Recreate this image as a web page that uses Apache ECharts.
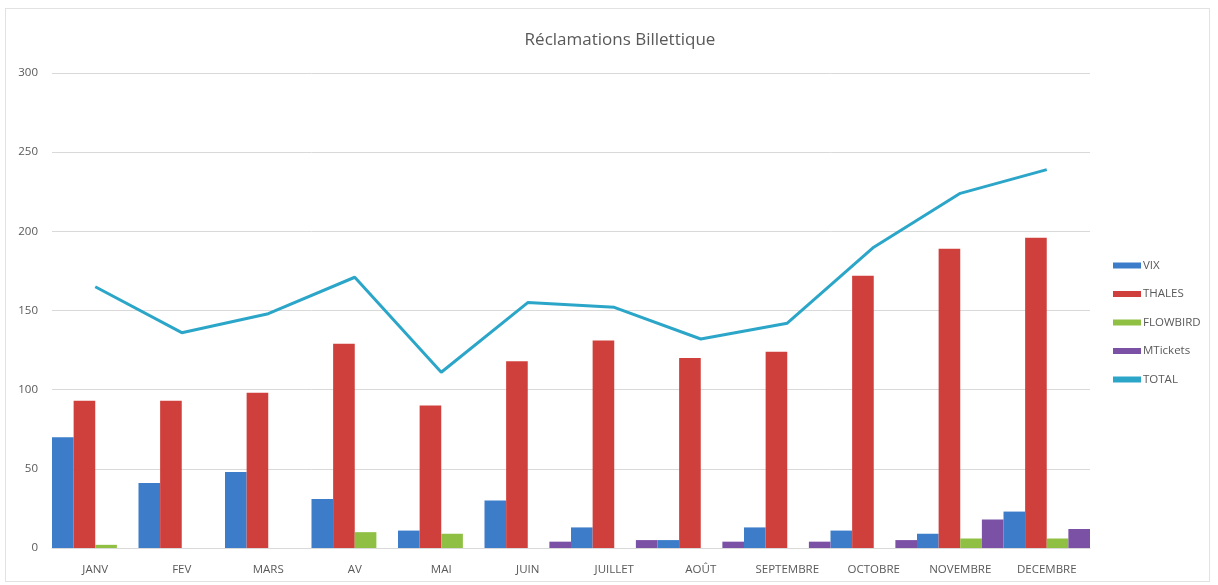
<!DOCTYPE html>
<html>
<head>
<meta charset="utf-8">
<script src="https://cdn.jsdelivr.net/npm/echarts@6/dist/echarts.min.js"></script>
<style>
  html, body { margin: 0; padding: 0; background: #ffffff; }
  #frame { position: absolute; left: 5px; top: 8px; width: 1205px; height: 574px; border: 1px solid #e2e2e2; box-sizing: border-box; }
  #chart { position: absolute; left: 0; top: 0; width: 1218px; height: 585px; }
</style>
</head>
<body>
<div id="frame"></div>
<div id="chart"></div>
<script>
const categories = ['JANV', 'FEV', 'MARS', 'AV', 'MAI', 'JUIN', 'JUILLET', 'AOÛT', 'SEPTEMBRE', 'OCTOBRE', 'NOVEMBRE', 'DECEMBRE'];
const vix      = [70, 41, 48, 31, 11, 30, 13, 5, 13, 11, 9, 23];
const thales   = [93, 93, 98, 129, 90, 118, 131, 120, 124, 172, 189, 196];
const flowbird = [2, 0, 0, 10, 9, 0, 0, 0, 0, 0, 6, 6];
const mtickets = [0, 0, 0, 0, 0, 4, 5, 4, 4, 5, 18, 12];
const total    = [165, 136, 148, 171, 111, 155, 152, 132, 142, 190, 224, 239];
const yTicks   = [0, 50, 100, 150, 200, 250, 300];

const textColor = '#595959';
const font = '"Open Sans", "Liberation Sans", sans-serif';

const chart = echarts.init(document.getElementById('chart'), null, { renderer: 'canvas' });
chart.setOption({
  backgroundColor: 'transparent',
  animation: false,
  title: {
    text: 'Réclamations Billettique',
    left: 615, top: 27, textAlign: 'center',
    textStyle: { fontFamily: font, fontSize: 17, fontWeight: 'normal', color: textColor }
  },
  legend: {
    orient: 'vertical',
    left: 1108, top: 252,
    itemGap: 11.5,
    itemWidth: 28, itemHeight: 6,
    icon: 'rect',
    textStyle: { fontFamily: font, fontSize: 11.5, color: textColor, padding: [0, 0, 0, -3], lineHeight: 17 },
    data: ['VIX', 'THALES', 'FLOWBIRD', 'MTickets', 'TOTAL']
  },
  grid: { left: 52, right: 128, top: 73, bottom: 37, containLabel: false },
  xAxis: {
    type: 'category',
    data: categories,
    axisTick: { show: false },
    axisLine: { lineStyle: { color: '#d9d9d9', width: 1 } },
    axisLabel: { fontFamily: font, fontSize: 11.5, color: textColor, margin: 16, interval: 0 }
  },
  yAxis: {
    type: 'value',
    min: yTicks[0], max: yTicks[yTicks.length - 1], interval: yTicks[1] - yTicks[0],
    axisLine: { show: false },
    axisTick: { show: false },
    axisLabel: { fontFamily: font, fontSize: 11.5, color: textColor, margin: 14 },
    splitLine: { lineStyle: { color: '#d9d9d9', width: 1 } }
  },
  series: [
    { name: 'VIX', type: 'bar', data: vix, barGap: '0%', barCategoryGap: '0%', itemStyle: { color: '#3D7CC9' } },
    { name: 'THALES', type: 'bar', data: thales, barGap: '0%', barCategoryGap: '0%', itemStyle: { color: '#CF403D' } },
    { name: 'FLOWBIRD', type: 'bar', data: flowbird, barGap: '0%', barCategoryGap: '0%', itemStyle: { color: '#8FC043' } },
    { name: 'MTickets', type: 'bar', data: mtickets, barGap: '0%', barCategoryGap: '0%', itemStyle: { color: '#7B51A5' } },
    { name: 'TOTAL', type: 'line', data: total, symbol: 'none', smooth: false,
      lineStyle: { color: '#2CA6C8', width: 3 }, itemStyle: { color: '#2CA6C8' }, z: 5 }
  ]
});
</script>
</body>
</html>
